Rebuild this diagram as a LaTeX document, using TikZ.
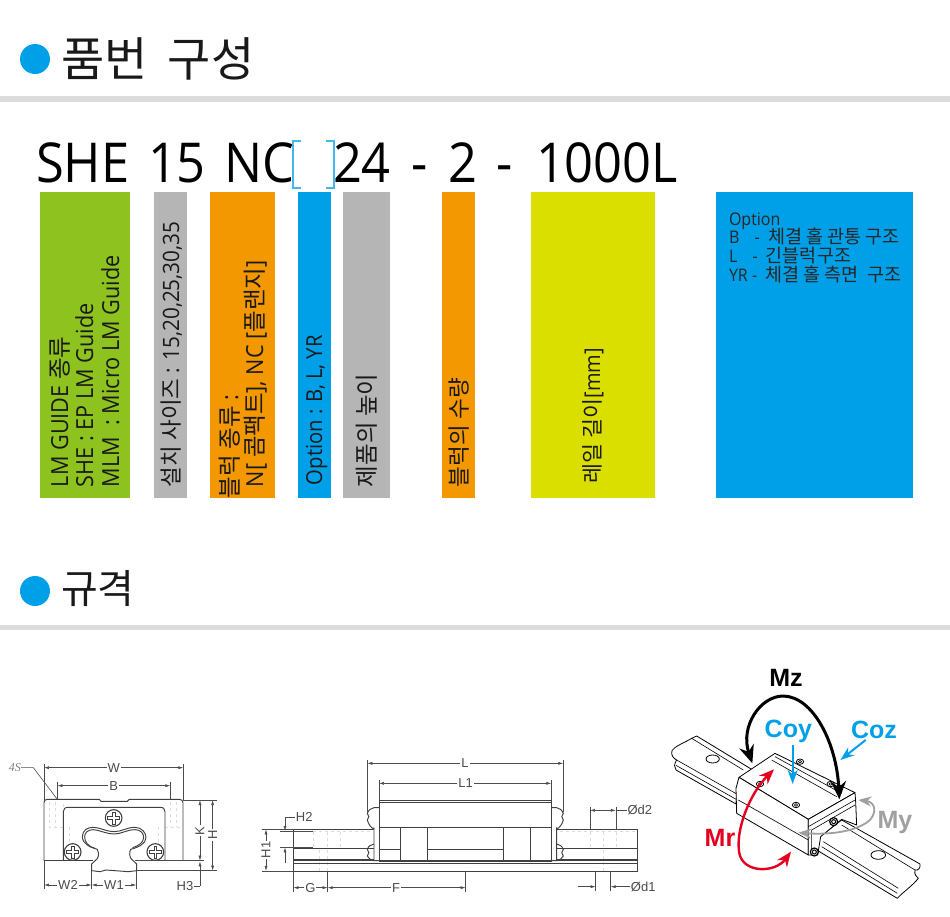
\documentclass[tikz,border=0pt]{standalone}
\usepackage{fontspec}
\setmainfont[FakeStretch=.92]{Open Sans}
\newfontfamily\krfont{Noto Sans CJK KR}
\newfontfamily\dimfont{Liberation Sans}
\newcommand{\kr}[1]{{\krfont #1}}
\newcommand{\krb}[1]{{\krfont\fontsize{18.5}{18.5}\selectfont #1}}
\newcommand{\fsz}[1]{\fontsize{#1}{#1}\selectfont}
\usetikzlibrary{arrows.meta}
\definecolor{cblue}{HTML}{00A0E9}
\definecolor{cgreen}{HTML}{8DC21F}
\definecolor{cgray}{HTML}{B5B5B5}
\definecolor{corange}{HTML}{F39800}
\definecolor{cyellow}{HTML}{DADF00}
\definecolor{cbar}{HTML}{DCDCDC}
\definecolor{cred}{HTML}{E60020}
\definecolor{cmy}{HTML}{A0A0A0}
\definecolor{cghost}{HTML}{DDDDDD}
\tikzset{
  every node/.style={inner sep=0pt,outer sep=0pt},
  vtext/.style={rotate=90,anchor=base west,font=\fsz{23.5},text=black!90},
  part/.style={anchor=base west,font=\fsz{55},text=black},
  heading/.style={anchor=base west,font=\krfont\fsz{47},text=black!90},
  opt/.style={anchor=base west,font=\fsz{17.4},text=black!85},
  dimlab/.style={font=\dimfont\fsz{13},text=black!70,fill=white,inner xsep=1pt},
  dimline/.style={draw=black!70,line width=.6pt},
  dimarrow/.style={draw=black!70,line width=.6pt,{Latex[length=5pt,width=3pt]}-{Latex[length=5pt,width=3pt]}},
  onearrow/.style={draw=black!70,line width=.6pt,-{Latex[length=5pt,width=3pt]}},
  part2/.style={draw=black!75,line width=.95pt},
  ghost/.style={draw=cghost,line width=.5pt,dashed},
  face/.style={draw=black,fill=white,line width=.8pt,line join=round},
  thinl/.style={draw=black,line width=.6pt},
  moment/.style={font=\dimfont\bfseries\fsz{25}},
}
\begin{document}
\begin{tikzpicture}[x=1pt,y=-1pt]
\useasboundingbox (0,0) rectangle (950,916);
\fill[white] (0,0) rectangle (950,916);
% headings
\fill[cblue] (35,59) circle (15);
\node[heading] (h1) at (61,76) {품번\hspace{10pt} 구성};
\fill[cbar] (0,96) rectangle (950,102);
\fill[cblue] (35,591) circle (15);
\node[heading,font=\krfont\fsz{40}] (h2) at (61,603) {규격};
\fill[cbar] (0,625) rectangle (950,630);
% part number
\node[part] (p1) at (36,182) {SHE};
\node[part] (p2) at (148,182) {15};
\node[part] (p3) at (224,182) {NC};
\node[part] (p4) at (333,182) {24};
\node[part] (p5) at (411,182) {-};
\node[part] (p6) at (448,182) {2};
\node[part] (p7) at (496,182) {-};
\node[part] (p8) at (536,182) {1000L};
\fill[white] (294,140) rectangle (334,190);
\draw[cblue!75,line width=1.2pt] (301,141) -- (293,141) -- (293,188) -- (301,188);
\draw[cblue!75,line width=1.2pt] (326,141) -- (334,141) -- (334,188) -- (326,188);
% colour boxes
\fill[cgreen] (40,192) rectangle (130,498);
\fill[cgray] (154,192) rectangle (187,498);
\fill[corange] (210,192) rectangle (275,498);
\fill[cblue] (298,192) rectangle (331,498);
\fill[cgray] (343,192) rectangle (390,498);
\fill[corange] (442,192) rectangle (475,498);
\fill[cyellow] (531,192) rectangle (655,498);
\fill[cblue] (716,192) rectangle (913,498);
% vertical labels
\node[vtext] (g1) at (68,487) {LM GUIDE \kr{종류}};
\node[vtext] (g2) at (93,487) {SHE : EP LM Guide};
\node[vtext] (g3) at (119,487) {MLM~ : Micro LM Guide};
\node[vtext,font=\fsz{22.5}] (s1) at (179,487) {\kr{설치 사이즈} : 15,20,25,30,35};
\node[vtext] (b1) at (238,498) {\kr{블럭 종류} :};
\node[vtext] (b2) at (263,487) {N[ \kr{콤팩트}], NC [\kr{플랜지}]};
\node[vtext,font=\fsz{22}] (o1) at (322,485) {Option : B, L, YR};
\node[vtext] (t1) at (375,487) {\kr{제품의 높이}};
\node[vtext,font=\fsz{22.6}] (q1) at (467,487) {\kr{블럭의 수량}};
\node[vtext,font=\fsz{21.7}] (r1) at (600,483) {\kr{레일 길이}[mm]};
\node[opt] (l1) at (729,225) {Option};
\node[opt] (l2) at (729,243) {B \hspace{7pt} - \hspace{4pt}\krb{체결 홀 관통 구조}};
\node[opt] (l3) at (729,262) {L \hspace{7pt} - \hspace{4pt}\krb{긴블럭구조}};
\node[opt] (l4) at (729,281) {YR - \hspace{4pt}\krb{체결 홀 측면 ~구조}};
% ---------- left drawing (zoom coordinates)
\begin{scope}[shift={(0,720)},x=.3333pt,y=-.3333pt]
 \draw[ghost] (148,245)--(148,322)--(190,322)--(190,245) (165,245)--(165,322);
 \draw[ghost] (495,322)--(548,322) (510,245)--(510,322) (530,245)--(530,322);
 \draw[ghost] (208,322)--(208,375) (475,322)--(475,375);
 \draw[part2] (132,422)--(132,248) .. controls (132,242) and (135,238) .. (142,238)--(298,238)--(303,244)--(382,244)--(388,238)--(538,238) .. controls (545,238) and (549,242) .. (549,248)--(549,422);
 \draw[part2] (190,420)--(190,275) .. controls (190,266) and (195,262) .. (205,262)--(480,262) .. controls (490,262) and (495,266) .. (495,275)--(495,420);
 \draw[part2] (132,422)--(280,422) (405,422)--(549,422);
 \draw[part2,fill=white] (275,452)--(275,432)--(292,416) .. controls (298,405) and (296,395) .. (292,388) .. controls (270,382) and (248,372) .. (247,350) .. controls (248,330) and (262,322) .. (280,322) .. controls (305,324) and (320,335) .. (342,335) .. controls (365,335) and (380,322) .. (405,322) .. controls (425,322) and (438,338) .. (438,352) .. controls (438,372) and (415,382) .. (392,388) .. controls (388,395) and (388,408) .. (393,416)--(410,432)--(410,452)--(385,455)--(318,450)--(300,455)--cycle;
 \draw[part2] (285,385) .. controls (262,378) and (254,365) .. (254,350) .. controls (254,337) and (265,329) .. (280,329) .. controls (305,332) and (320,342) .. (342,342) .. controls (365,342) and (380,329) .. (405,329) .. controls (422,329) and (431,340) .. (431,352) .. controls (431,368) and (415,378) .. (398,383);
 \foreach \cx/\cy in {341/294,218/396,466/396}{
  \draw[part2,fill=white,line width=1.1pt] (\cx,\cy) circle (25);
  \draw[part2] (\cx-18,\cy-4)--(\cx-4,\cy-4)--(\cx-4,\cy-18)--(\cx+4,\cy-18)--(\cx+4,\cy-4)--(\cx+18,\cy-4)--(\cx+18,\cy+4)--(\cx+4,\cy+4)--(\cx+4,\cy+18)--(\cx-4,\cy+18)--(\cx-4,\cy+4)--(\cx-18,\cy+4)--cycle;
 }
 % dimensions
 \node[font=\fontspec{Liberation Serif}\itshape\fsz{12},text=black!50] (s4) at (45,143) {4S};
 \coordinate (s4a) at (100,143); \coordinate (s4b) at (172,238);
 \draw[dimline] (s4) -- (s4a) -- (s4b);
 \draw[dimline] (132,132)--(132,240) (550,132)--(550,240) (172,185)--(172,238) (511,185)--(511,238);
 \node[dimlab] (dW) at (341,143) {W};
 \draw[onearrow] (dW)--(132,143); \draw[onearrow] (dW)--(550,143);
 \node[dimlab] (dB) at (341,197) {B};
 \draw[onearrow] (dB)--(172,197); \draw[onearrow] (dB)--(511,197);
 \draw[dimline] (550,240)--(650,240) (410,452)--(650,452) (405,422)--(612,422);
 \node[dimlab,rotate=90] (dK) at (600,332) {K};
 \draw[onearrow] (dK)--(600,240); \draw[onearrow] (dK)--(600,422);
 \node[dimlab,rotate=90] (dH) at (638,345) {H};
 \draw[onearrow] (dH)--(638,240); \draw[onearrow] (dH)--(638,452);
 \node[dimlab] (dH3) at (555,498) {H3};
 \draw[dimline] (dH3)--(600,498); \draw[onearrow] (600,498)--(600,424);
 \draw[dimline] (132,422)--(132,507) (275,452)--(275,507) (409,452)--(409,507);
 \node[dimlab] (dW2) at (204,495) {W2};
 \draw[onearrow] (dW2)--(132,495); \draw[onearrow] (dW2)--(275,495);
 \node[dimlab] (dW1) at (342,495) {W1};
 \draw[onearrow] (dW1)--(275,495); \draw[onearrow] (dW1)--(409,495);
\end{scope}
% ---------- middle drawing
\begin{scope}[shift={(250,740)},x=.3333pt,y=-.3333pt]
 \draw[ghost] (465,190)--(465,262) (490,190)--(490,262) (515,190)--(515,262) (645,190)--(645,362) (775,190)--(775,262) (800,190)--(800,262) (825,190)--(825,262);
 \draw[ghost] (190,275)--(360,275) (190,275)--(190,322) (232,275)--(232,393) (272,275)--(272,322) (207,330)--(207,393);
 \draw[ghost] (930,275)--(1160,275) (1020,275)--(1020,322) (1060,275)--(1060,393) (1098,275)--(1098,322);
 \draw[ghost] (535,275)--(760,275) (607,275)--(607,325) (685,275)--(685,325);
 % rail
 \draw[part2] (372,268)--(130,268)--(130,393)--(1162,393)--(1162,268)--(920,268);
 \draw[part2] (130,325)--(372,325) (130,357)--(372,357) (130,362)--(372,362) (130,370)--(1162,370);
 \draw[part2] (920,325)--(1162,325) (920,357)--(1162,357) (920,362)--(1162,362);
 % block
 \draw[part2,fill=white] (387,180) rectangle (904,262);
 \draw[part2] (387,187)--(904,187);
 \draw[part2,fill=white] (387,262) rectangle (904,365);
 \draw[part2,line width=1.1pt] (387,262)--(904,262);
 \draw[part2] (450,262)--(450,362) (532,262)--(532,362) (760,262)--(760,362) (842,262)--(842,362);
 \draw[part2] (387,327)--(450,327) (532,327)--(760,327) (387,360)--(904,360);
 \draw[part2] (372,262)--(372,362)--(387,362) (387,203)--(372,203) .. controls (362,205) and (356,210) .. (352,220) .. controls (358,226) and (358,234) .. (352,240) .. controls (355,252) and (362,262) .. (372,268);
 \draw[part2] (372,312) .. controls (362,314) and (356,318) .. (352,328) .. controls (358,334) and (358,342) .. (352,348) .. controls (355,355) and (362,360) .. (372,362);
 \draw[part2] (904,362)--(920,362)--(920,262) (904,203)--(920,203) .. controls (930,205) and (936,210) .. (940,220) .. controls (934,226) and (934,234) .. (940,240) .. controls (937,252) and (930,262) .. (920,268);
 \draw[part2] (920,312) .. controls (930,314) and (936,318) .. (940,328) .. controls (934,334) and (934,342) .. (940,348) .. controls (937,355) and (930,360) .. (920,362);
 % dims
 \draw[dimline] (352,60)--(352,215) (940,60)--(940,215) (387,120)--(387,180) (904,120)--(904,180);
 \node[dimlab] (dL) at (645,70) {L};
 \draw[onearrow] (dL)--(352,70); \draw[onearrow] (dL)--(940,70);
 \node[dimlab] (dL1) at (647,130) {L1};
 \draw[onearrow] (dL1)--(387,130); \draw[onearrow] (dL1)--(904,130);
 \draw[dimline] (35,268)--(130,268) (35,393)--(130,393);
 \node[dimlab,rotate=90] (dH1) at (48,330) {H1};
 \draw[onearrow] (dH1)--(48,268); \draw[onearrow] (dH1)--(48,393);
 \draw[dimline,line width=.8pt] (90,273)--(188,273) (90,322)--(188,322);
 \node[dimlab,anchor=west] (dH2) at (135,232) {H2};
 \draw[dimline] (dH2)--(105,232)--(105,245);
 \draw[onearrow] (105,245)--(105,273);
 \draw[onearrow] (105,368)--(105,322);
 \draw[dimline] (130,393)--(130,455) (233,393)--(233,455) (647,393)--(647,455);
 \node[dimlab] (dG) at (181,443) {G};
 \draw[onearrow] (dG)--(130,443); \draw[onearrow] (dG)--(233,443);
 \node[dimlab] (dF) at (438,443) {F};
 \draw[onearrow] (dF)--(233,443); \draw[onearrow] (dF)--(647,443);
 \draw[dimline] (1020,202)--(1020,268) (1098,202)--(1098,268);
 \draw[dimarrow] (1020,211)--(1098,211);
 \node[dimlab,anchor=west] (dd2) at (1130,211) {Ød2};
 \draw[dimline] (1098,211)--(dd2);
 \draw[dimline] (1037,393)--(1037,452) (1082,393)--(1082,452);
 \coordinate (d1a) at (985,440);
 \draw[onearrow] (d1a)--(1037,440);
 \node[dimlab,anchor=west] (dd1) at (1140,440) {Ød1};
 \draw[onearrow] (dd1)--(1082,440);
\end{scope}
% ---------- 3D view
\begin{scope}[shift={(660,660)},x=.3333pt,y=-.3333pt]
 % back rail
 \draw[face] (275,328)--(110,228)--(95,235) .. controls (70,250) and (45,258) .. (36,272) .. controls (32,285) and (40,295) .. (50,300) .. controls (42,312) and (42,322) .. (48,330)--(228,432)--(235,360)--cycle;
 \draw[thinl] (95,235)--(250,330) (50,300)--(232,403) (48,316)--(232,420);
 \draw[face] (158,297) ellipse (20 and 12);
 % front rail
 \draw[face] (480,530)--(545,480)--(780,612) .. controls (782,625) and (775,632) .. (765,630) .. controls (762,645) and (770,650) .. (775,655) .. controls (755,680) and (730,695) .. (712,715)--(470,570)--cycle;
 \draw[thinl] (545,495)--(765,630) (490,545)--(715,685) (485,560)--(712,700);
 \draw[face] (655,585) ellipse (22 and 13);
 % block
 \draw[face] (237,352)--(345,280)--(585,398)--(445,478)--cycle;
 \draw[face] (237,352)--(445,478)--(445,585)--(230,460)--(228,385)--cycle;
 \draw[face] (445,478)--(585,398)--(587,425)--(590,495)--(545,478)--(482,530)--(473,585)--(445,585)--cycle;
 \draw[thinl] (335,300)--(530,410) (345,290)--(545,400);
 \draw[thinl] (235,420)--(445,540) (445,500)--(585,420) (455,510)--(585,435) (455,510)--(455,585);
 \foreach \hx/\hy in {300/372,408/435,420/305,512/372}{
  \draw[face] (\hx,\hy) ellipse (11 and 8);
  \draw[thinl] (\hx,\hy) ellipse (5 and 4);
 }
 \foreach \hx/\hy in {521/485,463/576}{
  \draw[face,line width=1.2pt] (\hx,\hy) circle (12);
  \draw[line width=1pt] (\hx,\hy) circle (6);
 }
 % arrows
 \draw[cmy,line width=1.8pt,{Stealth[length=13pt,width=10pt]}-{Stealth[length=13pt,width=10pt]}] (595,420) .. controls (640,425) and (655,450) .. (630,480) .. controls (590,515) and (510,525) .. (415,518);
 \draw[black,line width=3pt,{Stealth[length=18pt,width=15pt]}-{Stealth[length=18pt,width=15pt]}] (277,310) .. controls (240,200) and (300,108) .. (370,108) .. controls (460,110) and (530,250) .. (538,418);
 \draw[cred,line width=2.4pt,{Stealth[length=15pt,width=12pt]}-{Stealth[length=15pt,width=12pt]}] (342,328) .. controls (270,400) and (225,510) .. (238,580) .. controls (250,640) and (345,640) .. (393,575);
 \draw[cblue,line width=2pt,-{Stealth[length=14pt,width=10pt]}] (398,255)--(398,372);
 \draw[cblue,line width=2pt,-{Stealth[length=14pt,width=10pt]}] (617,240)--(541,300);
 \node[moment,text=black] (mz) at (378,55) {Mz};
 \node[moment,text=cblue] (coy) at (385,215) {Coy};
 \node[moment,text=cblue] (coz) at (642,210) {Coz};
 \node[moment,text=cred] (mr) at (180,533) {Mr};
 \node[moment,text=cmy] (my) at (705,488) {My};
\end{scope}
\end{tikzpicture}
\end{document}
